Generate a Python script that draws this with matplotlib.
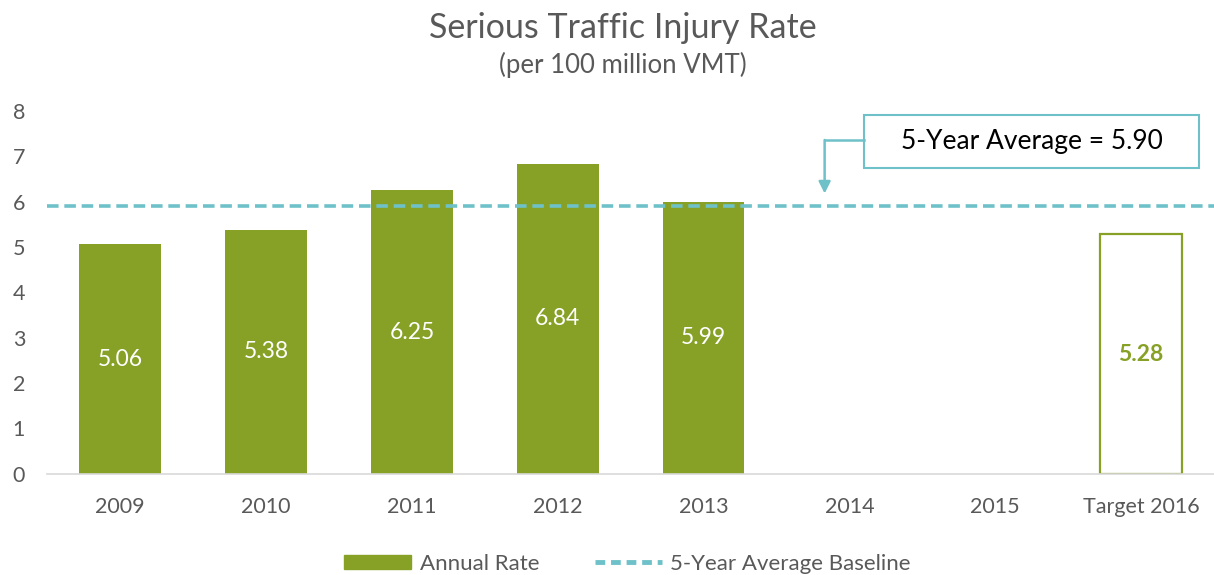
import matplotlib
matplotlib.use("Agg")
import matplotlib.pyplot as plt
from matplotlib.patches import Rectangle, Patch
from matplotlib.lines import Line2D

plt.rcParams['font.family'] = ['Lato', 'DejaVu Sans']

categories = ["2009", "2010", "2011", "2012", "2013", "2014", "2015", "Target 2016"]
annual_rate = [5.06, 5.38, 6.25, 6.84, 5.99, None, None]
target_value = 5.28
baseline_avg = 5.90

GREEN = "#86A125"
TEAL = "#6EC1C9"
GRAY = "#595959"

fig = plt.figure(figsize=(12.14, 5.75), dpi=100)
ax = fig.add_axes([0.039, 0.176, 0.961, 0.631])

x = list(range(len(categories)))
w = 0.56
for i, v in enumerate(annual_rate):
    if v is None:
        continue
    ax.bar(i, v, width=w, color=GREEN, zorder=2)
    ax.text(i, v / 2, f"{v:.2f}", ha="center", va="center", color="white", fontsize=16.5, zorder=3)

ti = len(categories) - 1
ax.bar(ti, target_value, width=w, facecolor="white", edgecolor=GREEN, linewidth=1.6, zorder=2)
ax.text(ti, target_value / 2, f"{target_value:.2f}", ha="center", va="center", color=GREEN,
        fontsize=16.5, fontweight="bold", zorder=3)

ax.axhline(baseline_avg, color=TEAL, linewidth=2.6, linestyle=(0, (3.2, 1.6)), zorder=4)

ax.set_xlim(-0.5, len(categories) - 0.5)
ax.set_ylim(0, 8)
ax.set_xticks(x)
ax.set_xticklabels(categories, fontsize=15.5, color=GRAY)
ax.set_yticks(range(0, 9))
ax.set_yticklabels([str(t) for t in range(0, 9)], fontsize=15.5, color=GRAY)
ax.tick_params(axis="both", length=0)
ax.tick_params(axis="x", pad=17)
ax.tick_params(axis="y", pad=16)
for s in ["top", "right", "left"]:
    ax.spines[s].set_visible(False)
ax.spines["bottom"].set_color("#D9D9D9")
ax.spines["bottom"].set_linewidth(1.2)

# annotation box
bx0, bx1, by0, by1 = 5.10, 7.40, 6.75, 7.92
ax.add_patch(Rectangle((bx0, by0), bx1 - bx0, by1 - by0, facecolor="white",
                       edgecolor=TEAL, linewidth=1.5, zorder=5, clip_on=False))
ax.text((bx0 + bx1) / 2, (by0 + by1) / 2, f"5-Year Average = {baseline_avg:.2f}",
        ha="center", va="center", fontsize=19, color="black", zorder=6)
ax.plot([bx0, 4.83], [7.35, 7.35], color=TEAL, linewidth=1.8, zorder=5)
ax.annotate("", xy=(4.83, 6.18), xytext=(4.83, 7.36),
            arrowprops=dict(arrowstyle="-|>,head_width=0.35,head_length=0.7",
                            color=TEAL, linewidth=1.8, shrinkA=0, shrinkB=0), zorder=5)

fig.text(0.513, 0.952, "Serious Traffic Injury Rate", ha="center", va="center",
         fontsize=24.5, color=GRAY)
fig.text(0.513, 0.887, "(per 100 million VMT)", ha="center", va="center",
         fontsize=18.5, color=GRAY)

handles = [Patch(facecolor=GREEN, edgecolor=GREEN),
           Line2D([0], [0], color=TEAL, linewidth=3.5, linestyle=(0, (2.0, 1.2)))]
fig.legend(handles, ["Annual Rate", "5-Year Average Baseline"], loc="center",
           bbox_to_anchor=(0.517, 0.02), ncol=2, frameon=False, fontsize=16,
           labelcolor=GRAY, handlelength=3.0, handleheight=0.6, columnspacing=2.5,
           handletextpad=0.4)

fig.savefig("out.png", dpi=100)
